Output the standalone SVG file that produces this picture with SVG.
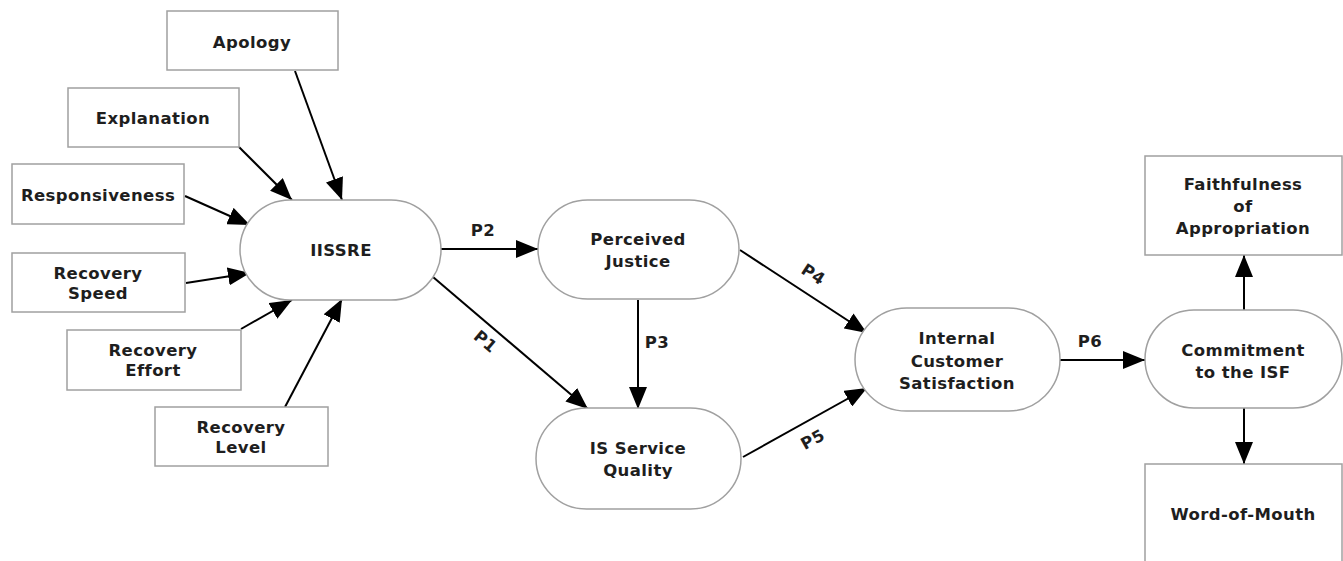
<svg xmlns="http://www.w3.org/2000/svg" width="1343" height="561" viewBox="0 0 1343 561">
<style>
.box{fill:#fff;stroke:#a0a0a0;stroke-width:1.5}
.t{font-family:"DejaVu Sans",Verdana,sans-serif;font-weight:bold;font-size:16.5px;letter-spacing:0.4px;fill:#1e1e1e;text-anchor:middle}
.c{stroke:#000;stroke-width:2;fill:none;marker-end:url(#ah)}
</style>
<defs>
<marker id="ah" markerUnits="userSpaceOnUse" markerWidth="22" markerHeight="18" viewBox="0 0 22 18" refX="22" refY="9" orient="auto">
<path d="M0,0 L22,9 L0,18 Z" fill="#000"/>
</marker>
</defs>
<rect width="1343" height="561" fill="#fff"/>
<g id="connectors">
<line class="c" x1="295" y1="71" x2="342" y2="200"/>
<line class="c" x1="239" y1="147" x2="292" y2="200"/>
<line class="c" x1="185" y1="196" x2="250" y2="225"/>
<line class="c" x1="186" y1="283" x2="250" y2="273"/>
<line class="c" x1="241" y1="329" x2="292" y2="300"/>
<line class="c" x1="285" y1="407" x2="342" y2="299"/>
<line class="c" x1="440" y1="249" x2="538" y2="249"/>
<line class="c" x1="433" y1="277" x2="588" y2="409"/>
<line class="c" x1="638" y1="300" x2="638" y2="409"/>
<line class="c" x1="740" y1="250" x2="867" y2="333"/>
<line class="c" x1="743" y1="457" x2="867" y2="388"/>
<line class="c" x1="1060" y1="360" x2="1145" y2="360"/>
<line class="c" x1="1244" y1="310" x2="1244" y2="255"/>
<line class="c" x1="1244" y1="408" x2="1244" y2="464"/>
<text class="t" x="483" y="236">P2</text>
<text class="t" transform="translate(485,342) rotate(40)" x="0" y="5">P1</text>
<text class="t" x="657" y="348">P3</text>
<text class="t" transform="translate(813,275) rotate(33)" x="0" y="5">P4</text>
<text class="t" transform="translate(813,440) rotate(-29)" x="0" y="5">P5</text>
<text class="t" x="1090" y="347">P6</text>
</g>
<g id="apology"><rect class="box" x="167" y="11" width="171" height="59"/><text class="t" x="252" y="48">Apology</text></g>
<g id="explanation"><rect class="box" x="68" y="88" width="171" height="59"/><text class="t" x="153" y="124">Explanation</text></g>
<g id="responsiveness"><rect class="box" x="12" y="164" width="172" height="60"/><text class="t" x="98" y="201">Responsiveness</text></g>
<g id="recovery-speed"><rect class="box" x="12" y="253" width="173" height="59"/><text class="t" x="98" y="279">Recovery</text><text class="t" x="98" y="299">Speed</text></g>
<g id="recovery-effort"><rect class="box" x="67" y="330" width="174" height="60"/><text class="t" x="153" y="356">Recovery</text><text class="t" x="153" y="376">Effort</text></g>
<g id="recovery-level"><rect class="box" x="155" y="407" width="173" height="59"/><text class="t" x="241" y="433">Recovery</text><text class="t" x="241" y="453">Level</text></g>
<g id="iissre"><rect class="box" x="240" y="200" width="201" height="100" rx="50" ry="50"/><text class="t" x="341" y="256">IISSRE</text></g>
<g id="perceived-justice"><rect class="box" x="538" y="200" width="201" height="99" rx="49.5" ry="49.5"/><text class="t" x="638" y="245">Perceived</text><text class="t" x="638" y="267">Justice</text></g>
<g id="is-service-quality"><rect class="box" x="536" y="408" width="205" height="101" rx="50.5" ry="50.5"/><text class="t" x="638" y="454">IS Service</text><text class="t" x="638" y="476">Quality</text></g>
<g id="internal-customer-satisfaction"><rect class="box" x="855" y="308" width="205" height="103" rx="51.5" ry="51.5"/><text class="t" x="957" y="344">Internal</text><text class="t" x="957" y="367">Customer</text><text class="t" x="957" y="389">Satisfaction</text></g>
<g id="commitment"><rect class="box" x="1145" y="310" width="197" height="98" rx="49" ry="49"/><text class="t" x="1243" y="356">Commitment</text><text class="t" x="1243" y="378">to the ISF</text></g>
<g id="faithfulness"><rect class="box" x="1145" y="156" width="197" height="99"/><text class="t" x="1243" y="190">Faithfulness</text><text class="t" x="1243" y="212">of</text><text class="t" x="1243" y="234">Appropriation</text></g>
<g id="word-of-mouth"><rect class="box" x="1145" y="464" width="197" height="110"/><text class="t" x="1243" y="520">Word-of-Mouth</text></g>
</svg>
